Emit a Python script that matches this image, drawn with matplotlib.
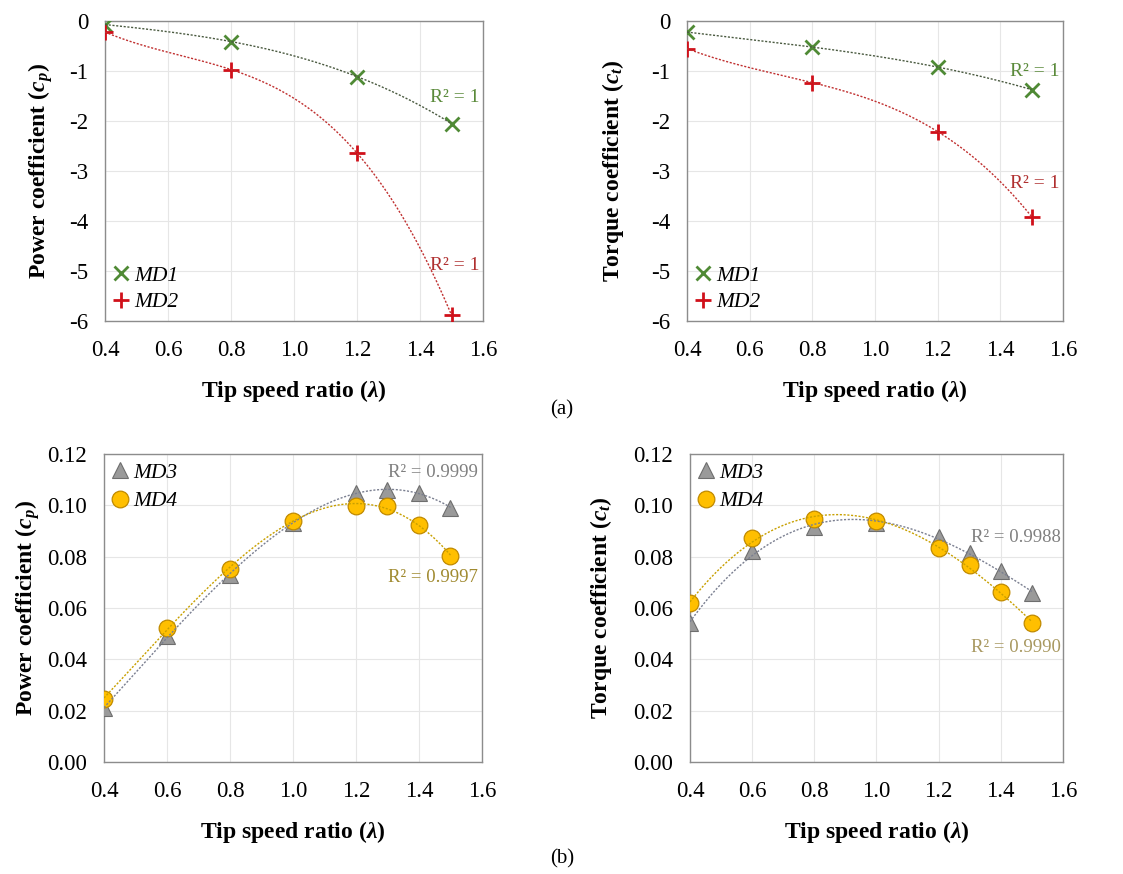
import numpy as np
import matplotlib.pyplot as plt

plt.rcParams['font.family'] = ['Liberation Serif', 'DejaVu Serif']
plt.rcParams['mathtext.fontset'] = 'custom'
plt.rcParams['mathtext.rm'] = 'Liberation Serif'
plt.rcParams['mathtext.it'] = 'Liberation Serif:italic'
plt.rcParams['mathtext.bf'] = 'Liberation Serif:bold'
plt.rcParams['mathtext.bfit'] = 'Liberation Serif:bold:italic'

# tip speed ratios
tsr_a = [0.4, 0.8, 1.2, 1.5]
tsr_b = [0.4, 0.6, 0.8, 1.0, 1.2, 1.3, 1.4, 1.5]

# (a) MD1 / MD2
cp_md1 = [-0.07, -0.41, -1.11, -2.05]
cp_md2 = [-0.22, -0.97, -2.64, -5.88]
ct_md1 = [-0.22, -0.52, -0.92, -1.37]
ct_md2 = [-0.55, -1.23, -2.21, -3.91]

# (b) MD3 / MD4
cp_md3 = [0.021, 0.049, 0.073, 0.093, 0.105, 0.106, 0.105, 0.099]
cp_md4 = [0.0247, 0.0523, 0.0754, 0.0939, 0.0998, 0.0997, 0.0924, 0.0802]
ct_md3 = [0.054, 0.0823, 0.0914, 0.093, 0.0875, 0.0815, 0.0745, 0.0659]
ct_md4 = [0.0618, 0.0874, 0.0945, 0.094, 0.0832, 0.0767, 0.0663, 0.054]

r2_a = ["R² = 1", "R² = 1", "R² = 1", "R² = 1"]
r2_b = ["R² = 0.9999", "R² = 0.9997", "R² = 0.9988", "R² = 0.9990"]

GREEN = "#4f8a35"
RED = "#d0101a"
GRAY = "#9a9a9a"
GOLD = "#ffbf00"

TICK = 16.5
LAB = 17
LEG = 15.5

fig = plt.figure(figsize=(11.23, 8.74), dpi=100)

ax1 = fig.add_axes([0.0935, 0.6327, 0.3366, 0.3432])
ax2 = fig.add_axes([0.6117, 0.6327, 0.3348, 0.3432])
ax3 = fig.add_axes([0.0926, 0.1281, 0.3366, 0.3524])
ax4 = fig.add_axes([0.6144, 0.1281, 0.3321, 0.3524])


def style(ax, ylim, yticks, fmt):
    ax.set_xlim(0.4, 1.6)
    ax.set_xticks(np.arange(0.4, 1.61, 0.2))
    ax.set_xticklabels(["%.1f" % t for t in np.arange(0.4, 1.61, 0.2)])
    ax.set_ylim(*ylim)
    ax.set_yticks(yticks)
    ax.set_yticklabels([fmt % t for t in yticks])
    ax.grid(True, color="#e6e6e6", linewidth=0.8)
    ax.set_axisbelow(True)
    for s in ax.spines.values():
        s.set_color("#8c8c8c")
        s.set_linewidth(1.0)
    ax.tick_params(axis="both", length=0, labelsize=TICK)
    ax.tick_params(axis="x", pad=14)
    ax.tick_params(axis="y", pad=12)
    ax.set_xlabel(r"Tip speed ratio ($\mathbfit{\lambda}$)", fontsize=LAB,
                  fontweight="bold", labelpad=12)


def trend(ax, x, y, deg, color):
    c = np.polyfit(x, y, deg)
    xs = np.linspace(min(x), max(x), 200)
    ax.plot(xs, np.polyval(c, xs), color=color, linestyle=(0, (1.5, 1.2)),
            linewidth=1.0, zorder=4)


# top row
for ax, y1, y2, lab, pad in [(ax1, cp_md1, cp_md2, r"Power coefficient ($\mathbfit{c}_{\mathbfit{p}}$)", 10),
                             (ax2, ct_md1, ct_md2, r"Torque coefficient ($\mathbfit{c}_{\mathbfit{t}}$)", 18)]:
    style(ax, (-6, 0), [0, -1, -2, -3, -4, -5, -6], "%d")
    trend(ax, tsr_a, y1, 3, "#4a5a40")
    trend(ax, tsr_a, y2, 3, "#c03030")
    ax.plot(tsr_a, y1, linestyle="none", marker="x", markersize=10,
            markeredgewidth=2, color=GREEN, label="MD1", zorder=3)
    ax.plot(tsr_a, y2, linestyle="none", marker="+", markersize=12,
            markeredgewidth=2, color=RED, label="MD2", zorder=3)
    ax.set_ylabel(lab, fontsize=LAB, fontweight="bold", labelpad=pad)
    ax.legend(loc="lower left", frameon=False,
              prop={"style": "italic", "size": LEG}, handlelength=0.7,
              handletextpad=0.25, borderaxespad=0.1, labelspacing=0.3,
              borderpad=0.3)

ax1.text(1.59, -1.52, r2_a[0], color="#5a8a3a", fontsize=14, ha="right", va="center")
ax1.text(1.59, -4.88, r2_a[1], color="#b03030", fontsize=14, ha="right", va="center")
ax2.text(1.59, -1.0, r2_a[2], color="#5a8a3a", fontsize=14, ha="right", va="center")
ax2.text(1.59, -3.24, r2_a[3], color="#b03030", fontsize=14, ha="right", va="center")

# bottom row
for ax, y3, y4, lab, pad in [(ax3, cp_md3, cp_md4, r"Power coefficient ($\mathbfit{c}_{\mathbfit{p}}$)", 4),
                             (ax4, ct_md3, ct_md4, r"Torque coefficient ($\mathbfit{c}_{\mathbfit{t}}$)", 14)]:
    style(ax, (0, 0.12), [0, 0.02, 0.04, 0.06, 0.08, 0.10, 0.12], "%.2f")
    ax.plot(tsr_b, y3, linestyle="none", marker="^", markersize=11,
            markerfacecolor=GRAY, markeredgecolor="#6e6e6e", markeredgewidth=0.8,
            label="MD3", zorder=3)
    ax.plot(tsr_b, y4, linestyle="none", marker="o", markersize=12,
            markerfacecolor=GOLD, markeredgecolor="#c08a00", markeredgewidth=0.9,
            label="MD4", zorder=3)
    trend(ax, tsr_b, y3, 3, "#7a7f90")
    trend(ax, tsr_b, y4, 3, "#c8a000")
    ax.set_ylabel(lab, fontsize=LAB, fontweight="bold", labelpad=pad)
    ax.legend(loc="upper left", frameon=False,
              prop={"style": "italic", "size": LEG}, handlelength=0.7,
              handletextpad=0.25, borderaxespad=0.1, labelspacing=0.4,
              borderpad=0.3)

ax3.text(1.587, 0.113, r2_b[0], color="#808080", fontsize=13.5, ha="right", va="center")
ax3.text(1.587, 0.072, r2_b[1], color="#a08a30", fontsize=13.5, ha="right", va="center")
ax4.text(1.594, 0.0873, r2_b[2], color="#808080", fontsize=13.5, ha="right", va="center")
ax4.text(1.594, 0.0447, r2_b[3], color="#a89860", fontsize=13.5, ha="right", va="center")

fig.text(0.5005, 0.531, "(a)", ha="center", va="center", fontsize=15)
fig.text(0.5005, 0.017, "(b)", ha="center", va="center", fontsize=15)

fig.savefig("out.png", dpi=100)
